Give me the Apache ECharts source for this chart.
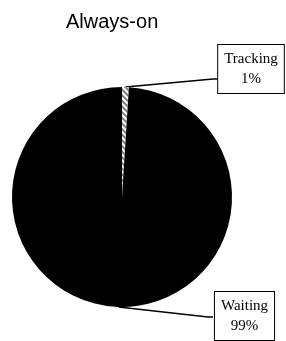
<!DOCTYPE html>
<html>
<head>
<meta charset="utf-8">
<script src="https://cdn.jsdelivr.net/npm/echarts@6/dist/echarts.min.js"></script>
<style>
  html, body { margin: 0; padding: 0; background: #fff; }
  #main { width: 286px; height: 341px; }
</style>
</head>
<body>
<div id="main"></div>
<script>
'use strict';

let names = ['Tracking', 'Waiting'];
let shares = [1, 99];

// where each label box sits (top-left corner and width)
let boxes = {
	'Tracking': { x: 218, y: 45, w: 66, lineY: 79 },
	'Waiting': { x: 213, y: 292, w: 63, lineY: 317 }
};

let myChart = echarts.init(document.getElementById('main'));

let data = [];
for (let i = 0; i < names.length; i++) {
	data.push({ name: names[i], value: shares[i] });
}
data[0].itemStyle = {
	color: '#fff',
	decal: {
		symbol: 'rect',
		symbolSize: 1,
		dashArrayX: [1, 0],
		dashArrayY: [2, 2],
		rotation: Math.PI / 4,
		color: '#808080'
	}
};
data[1].itemStyle = { color: '#000' };

let option = {
	animation: false,
	title: {
		text: 'Always-on',
		left: 61,
		top: 7,
		textStyle: {
			fontFamily: 'Liberation Sans',
			fontSize: 20,
			fontWeight: 'normal',
			color: '#000'
		}
	},
	series: [{
		type: 'pie',
		center: [122, 197],
		radius: 110,
		startAngle: 90,
		clockwise: true,
		data: data,
		label: {
			show: true,
			position: 'outside',
			formatter: '{b}\n{d}%',
			fontFamily: 'Liberation Serif',
			fontSize: 15,
			lineHeight: 20,
			color: '#000',
			backgroundColor: '#fff',
			borderColor: '#000',
			borderWidth: 1,
			padding: [4, 6],
			align: 'center'
		},
		labelLine: {
			show: true,
			lineStyle: { color: '#000', width: 1.5 }
		},
		labelLayout: function (params) {
			let b = boxes[names[params.dataIndex]];
			let pts = params.labelLinePoints;
			let start = pts ? pts[0] : [0, 0];
			return {
				x: b.x + b.w / 2,
				y: b.y,
				align: 'center',
				verticalAlign: 'top',
				labelLinePoints: [start, [b.x - 5, b.lineY], [b.x, b.lineY]]
			};
		}
	}]
};
myChart.setOption(option);
</script>
</body>
</html>
